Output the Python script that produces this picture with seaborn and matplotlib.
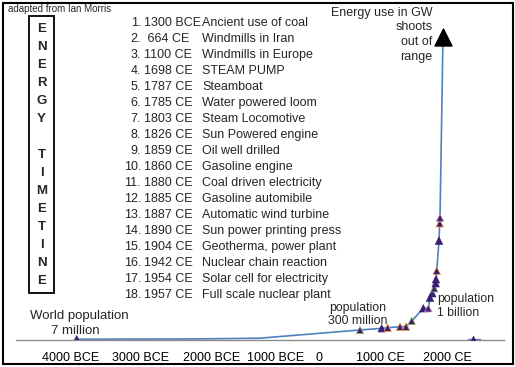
import matplotlib
matplotlib.use('Agg')
import matplotlib.pyplot as plt
import matplotlib.patches as mpatches
import pandas as pd
import seaborn as sns

# energy curve (arbitrary index)
YEARS = [-4000, -2000, -1000, 0, 644, 1000, 1098, 1300, 1398, 1492, 1682, 1764,
         1792, 1830, 1862, 1885, 1890, 1902, 1939, 1951, 1956, 2005]
ENERGY = [0.5, 0.8, 1.5, 6.5, 9.7, 11.4, 12.0, 13.0, 13.0, 18.7, 31.4, 31.4,
          42.0, 46.4, 51.4, 56.4, 60.4, 69.0, 99.0, 116.4, 122.0, 303.0]
MARKED = [True, False, False, False] + [True] * 17 + [False]
MARK_EDGE = ['#3a1f73', '#9bbb59', '#3a1f73', '#f79646', '#f79646', '#f79646',
             '#9bbb59', '#3a1f73', '#d9a0b0', '#3a1f73', '#3a1f73', '#9bbb59',
             '#3a1f73', '#3a1f73', '#f79646', '#3a1f73', '#f79646', '#d9a0b0']

# stray series sitting on the axis past 2000 CE
STRAY_YEARS = [2415, 2500, 2610]
STRAY_ENERGY = [0.3, 1.0, 0.3]

EVENT_YEARS = ['1300 BCE', ' 664 CE', '1100 CE', '1698 CE', '1787 CE', '1785 CE',
               '1803 CE', '1826 CE', '1859 CE', '1860 CE', '1880 CE', '1885 CE',
               '1887 CE', '1890 CE', '1904 CE', '1942 CE', '1954 CE', '1957 CE']
EVENT_NAMES = ['Ancient use of coal', 'Windmills in Iran', 'Windmills in Europe',
               'STEAM PUMP', 'Steamboat', 'Water powered loom', 'Steam Locomotive',
               'Sun Powered engine', 'Oil well drilled', 'Gasoline engine',
               'Coal driven electricity', 'Gasoline automibile',
               'Automatic wind turbine', 'Sun power printing press',
               'Geotherma, power plant', 'Nuclear chain reaction',
               'Solar cell for electricity', 'Full scale nuclear plant']

TICK_YEARS = [-5000, -4000, -3000, -2000, -1000, 0, 1000, 2000, 3000]
AXIS_LABELS = ['4000 BCE', '3000 BCE', '2000 BCE', '1000 BCE', '0', '1000 CE', '2000 CE']
AXIS_LABEL_YEARS = [-4093, -2962, -1790, -738, -28, 980, 2077]

W, H = 515, 367
LINE = '#4f81bd'
MARK = '#3a1f73'
FONT = ['Liberation Sans', 'DejaVu Sans']


def fx(px):
    return px / W


def fy(py):
    return 1 - py / H


def main():
    sns.set_style('white')
    plt.rcParams['font.family'] = FONT

    fig = plt.figure(figsize=(W / 100, H / 100), dpi=100)
    ax = fig.add_axes([fx(15.7), fy(339.7), (503.7 - 15.7) / W, 320 / H])

    df = pd.DataFrame({'year': YEARS, 'energy': ENERGY, 'marked': MARKED})
    sns.lineplot(data=df, x='year', y='energy', sort=False, color=LINE, lw=1.2, ax=ax)
    pts = df[df.marked]
    edges = [MARK] + MARK_EDGE[1:]
    sns.scatterplot(data=pts, x='year', y='energy', marker='^', s=28, color=MARK,
                    edgecolor=edges[:len(pts)], linewidth=0.5, zorder=3, ax=ax)
    top = df.iloc[[-1]]
    sns.scatterplot(data=top, x='year', y='energy', marker='^', s=150, color='black',
                    edgecolor='black', zorder=4, ax=ax)
    sns.lineplot(x=STRAY_YEARS, y=[0.3] * 3, color=LINE, lw=1.0, ax=ax)
    sns.scatterplot(x=STRAY_YEARS[1:2], y=STRAY_ENERGY[1:2], marker='^', s=24,
                    color=MARK, edgecolor=MARK, zorder=3, ax=ax)

    ax.set_xlim(-5000, 3000)
    ax.set_ylim(0, 320)
    for side in ['top', 'right', 'left']:
        ax.spines[side].set_visible(False)
    ax.spines['bottom'].set_color('#8c8c8c')
    ax.spines['bottom'].set_linewidth(1.0)
    ax.set_yticks([])
    ax.set_xticks(TICK_YEARS)
    ax.set_xticklabels([])
    ax.tick_params(axis='x', which='major', direction='out', length=2.5,
                   color='#8c8c8c', width=1)
    ax.set_xticks(AXIS_LABEL_YEARS, AXIS_LABELS, minor=True)
    ax.tick_params(axis='x', which='minor', length=0, pad=8.5, labelsize=9,
                   labelcolor='black')
    ax.set_xlabel('')
    ax.set_ylabel('')
    ax.patch.set_alpha(0)

    # outer frame and title box
    fig.patches.append(mpatches.Rectangle((fx(3), fy(364)), 510 / W, 361 / H,
                                          transform=fig.transFigure, fill=False,
                                          ec='black', lw=1.5))
    fig.patches.append(mpatches.Rectangle((fx(29.3), fy(293.3)), 25 / W, 277.3 / H,
                                          transform=fig.transFigure, fill=False,
                                          ec='black', lw=1.3))
    for i, ch in enumerate('ENERGY TIMETINE'):
        fig.text(fx(41.5), fy(29 + i * 18), ch, ha='center', va='center',
                 fontsize=9.5, fontweight='bold')

    fig.text(fx(7.5), fy(9), 'adapted from Ian Morris', ha='left', va='center',
             fontsize=7)

    for i, (yr, name) in enumerate(zip(EVENT_YEARS, EVENT_NAMES)):
        y = fy(22.7 + i * 16.0)
        fig.text(fx(141), y, f'{i + 1}.', ha='right', va='center', fontsize=9)
        fig.text(fx(144.5), y, yr, ha='left', va='center', fontsize=9)
        fig.text(fx(202.5), y, name, ha='left', va='center', fontsize=9)

    for py, line in zip([13.3, 27.5, 42, 56.7],
                        ['Energy use in GW', 'shoots', 'out of', 'range']):
        fig.text(fx(432.7), fy(py), line, ha='right', va='center', fontsize=9)

    fig.text(fx(79), fy(316), 'World population', ha='center', va='center', fontsize=9.5)
    fig.text(fx(75), fy(331), '7 million', ha='center', va='center', fontsize=9.5)
    fig.text(fx(357.7), fy(308.5), 'population', ha='center', va='center', fontsize=8.8)
    fig.text(fx(357.7), fy(320.7), '300 million', ha='center', va='center', fontsize=8.8)
    fig.text(fx(437.3), fy(299.3), 'population', ha='left', va='center', fontsize=8.8)
    fig.text(fx(437.3), fy(313.3), '1 billion', ha='left', va='center', fontsize=8.8)

    fig.savefig('out.png', dpi=100)


if __name__ == '__main__':
    main()
